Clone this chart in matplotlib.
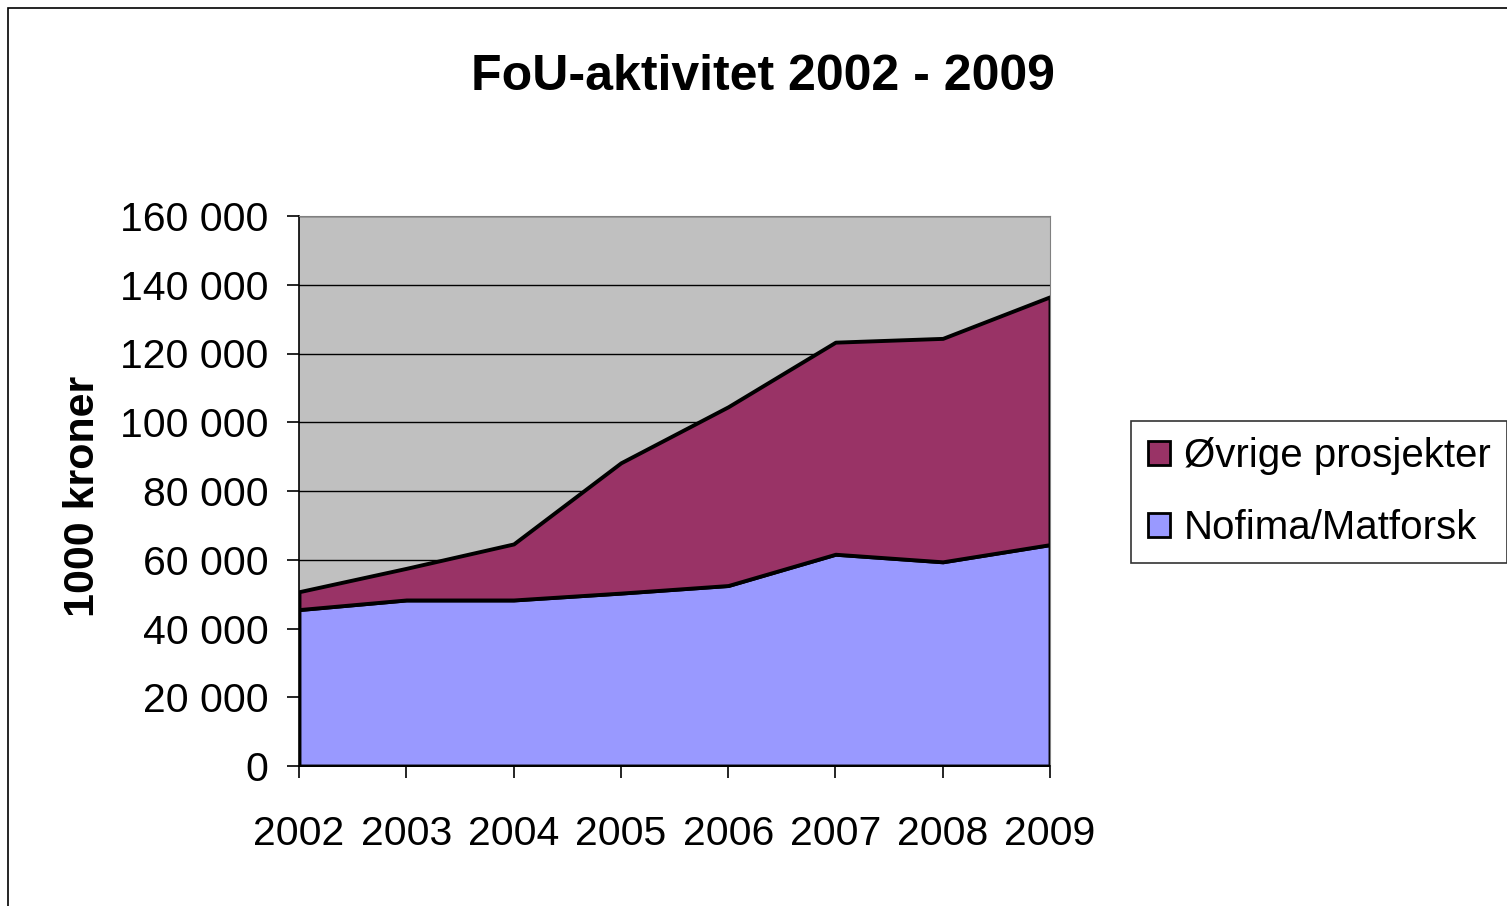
import numpy as np
import matplotlib.pyplot as plt
from matplotlib.patches import Rectangle

# data (1000 kroner)
years = [2002, 2003, 2004, 2005, 2006, 2007, 2008, 2009]
nofima = [45500, 48300, 48300, 50300, 52500, 61600, 59400, 64400]
totals = [50700, 57500, 64600, 88200, 104500, 123300, 124400, 136500]
ovrige = [t - n for t, n in zip(totals, nofima)]

yticks = [0, 20000, 40000, 60000, 80000, 100000, 120000, 140000, 160000]
ytick_labels = ["0", "20 000", "40 000", "60 000", "80 000", "100 000",
                "120 000", "140 000", "160 000"]

plt.rcParams['font.family'] = ['Liberation Sans', 'DejaVu Sans']

fig = plt.figure(figsize=(15.07, 9.06), dpi=100)
ax = fig.add_axes([299 / 1507, 1 - 766 / 906, 751 / 1507, 550 / 906])

# outer chart frame (only left and top visible)
fig.patches.append(Rectangle((8 / 1507, -0.1), 1.2, 1 - 8 / 906 + 0.1,
                             transform=fig.transFigure, fill=False,
                             edgecolor="black", linewidth=1.2))

x = np.arange(len(years))
ax.set_facecolor("#C0C0C0")
ax.stackplot(x, nofima, ovrige, colors=["#9999FF", "#993366"],
             edgecolor="black", linewidth=2.8,
             labels=["Nofima/Matforsk", "Øvrige prosjekter"])

ax.set_xlim(0, len(years) - 1)
ax.set_ylim(0, 160000)
ax.set_yticks(yticks)
ax.set_yticklabels(ytick_labels)
ax.set_xticks(x)
ax.set_xticklabels([str(y) for y in years])
ax.tick_params(axis="both", labelsize=29.5, direction="out", length=8.6, width=1.2)
ax.tick_params(axis="x", pad=27)
ax.tick_params(axis="y", pad=13.5)
ax.grid(axis="y", color="black", linewidth=1)
ax.set_axisbelow(True)

ax.spines["top"].set_color("#808080")
ax.spines["right"].set_color("#808080")
ax.spines["left"].set_linewidth(1.2)
ax.spines["bottom"].set_linewidth(1.2)

ax.set_ylabel("1000 kroner", fontsize=31, fontweight="bold", va="center")
ax.yaxis.set_label_coords(83 / 1507, 1 - 496 / 906, transform=fig.transFigure)
fig.text(763 / 1507, 1 - 77 / 906, "FoU-aktivitet 2002 - 2009", fontsize=36,
         fontweight="bold", ha="center", va="center")

handles, labels = ax.get_legend_handles_labels()
leg = fig.legend(handles[::-1], labels[::-1], loc="center",
                 bbox_to_anchor=(1319 / 1507, 1 - 492 / 906), fontsize=29,
                 frameon=True, fancybox=False, edgecolor="black",
                 handlelength=0.55, handleheight=0.55, handletextpad=0.35,
                 labelspacing=0.85, borderpad=0.4, borderaxespad=0)
leg.get_frame().set_linewidth(1.2)
for h in leg.legend_handles:
    h.set_linewidth(2)

fig.savefig("out.png", dpi=100)
